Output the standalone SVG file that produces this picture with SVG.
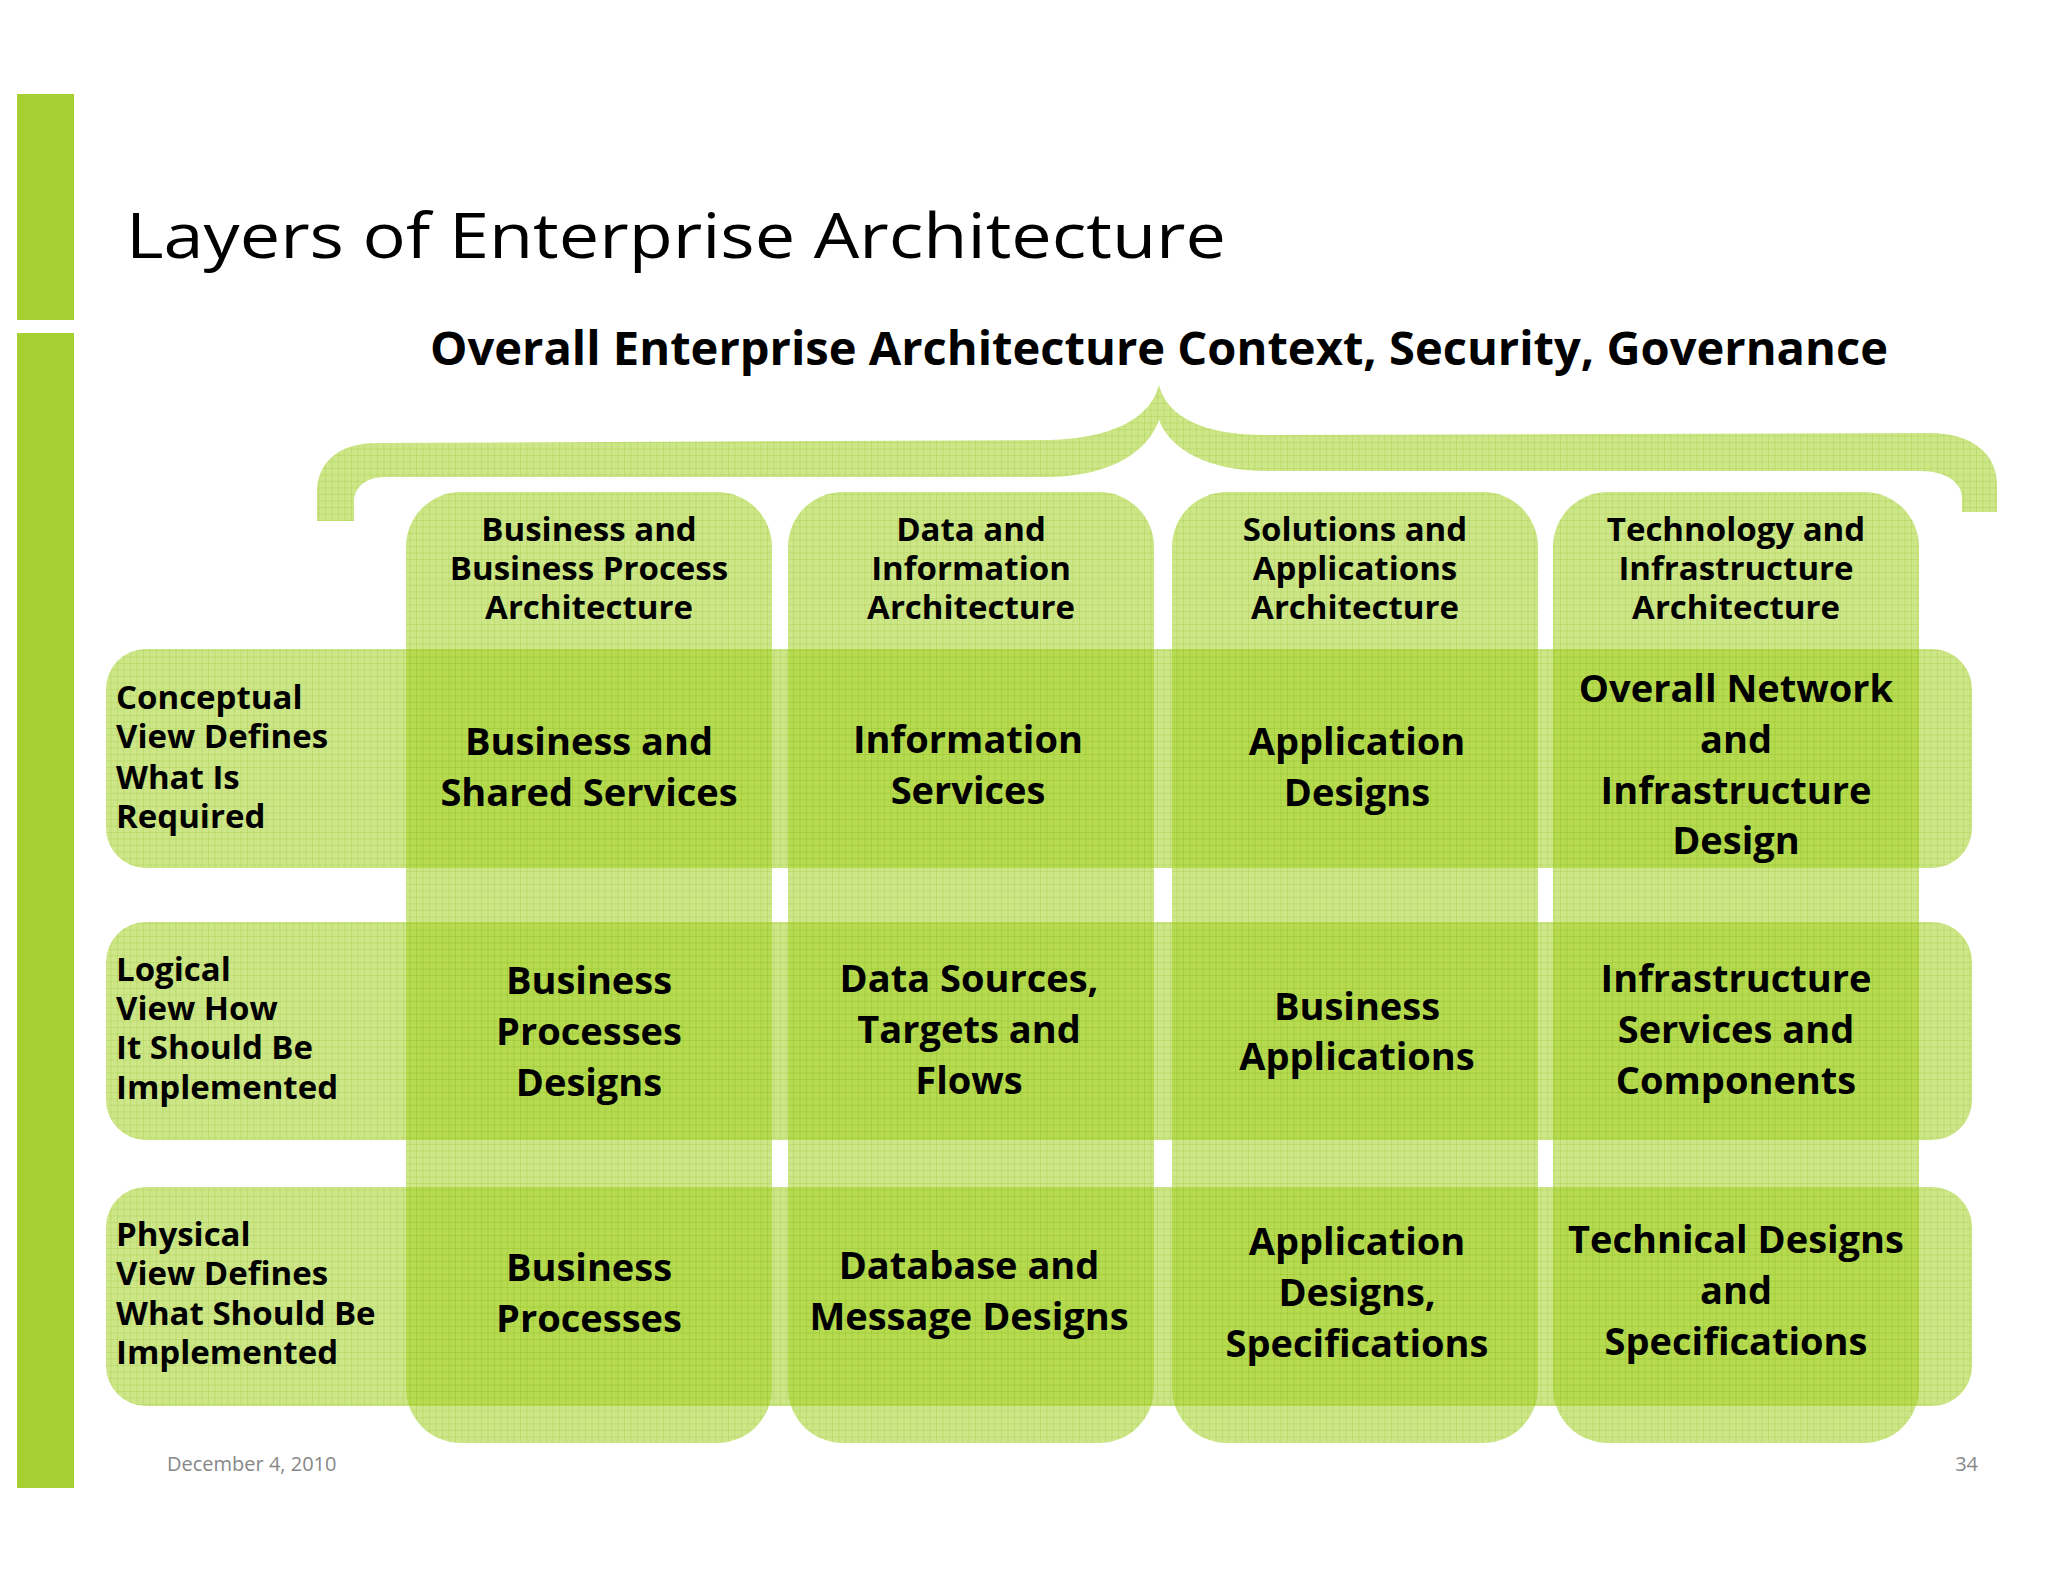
<svg xmlns="http://www.w3.org/2000/svg" width="2048" height="1582" viewBox="0 0 2048 1582">
<defs>
<pattern id="g" width="6.5" height="6.5" patternUnits="userSpaceOnUse">
<rect width="6.5" height="6.5" fill="#a4d124" fill-opacity="0.55"/>
<path d="M0 0.3H6.5M0.3 0V6.5" stroke="#7fb010" stroke-opacity="0.3" stroke-width="0.7"/>
</pattern>
<style>
.sh{fill:url(#g)}
text{font-family:"Open Sans","Liberation Sans",sans-serif;fill:#000}
.hd{font-size:33px;font-weight:bold;text-anchor:middle}
.cl{font-size:38px;font-weight:bold;text-anchor:middle}
.rl{font-size:33px;font-weight:bold}
</style>
</defs>
<rect width="2048" height="1582" fill="#fff"/>
<rect x="17" y="94" width="57" height="226" fill="#a6cf32"/>
<rect x="17" y="333" width="57" height="1155" fill="#a6cf32"/>
<text x="126" y="258" font-size="62" textLength="1100" lengthAdjust="spacingAndGlyphs">Layers of Enterprise Architecture</text>
<text x="430" y="365" font-size="47" font-weight="bold" textLength="1458" lengthAdjust="spacingAndGlyphs">Overall Enterprise Architecture Context, Security, Governance</text>
<g id="brace"><path class="sh" d="M317 521V492C317 462 340 443 375 443L1050 440C1110 438 1150 420 1159 385C1168 420 1210 436 1270 435L1930 433C1970 433 1997 452 1997 485V512H1962V498C1962 482 1945 471 1920 471L1270 471C1210 472 1170 450 1159 420C1148 452 1110 476 1050 477L385 477C365 477 354 488 354 502V521Z"/></g>
<g id="columns">
<rect class="sh" x="406" y="492" width="366" height="951" rx="55"/>
<rect class="sh" x="788" y="492" width="366" height="951" rx="55"/>
<rect class="sh" x="1172" y="492" width="366" height="951" rx="55"/>
<rect class="sh" x="1553" y="492" width="366" height="951" rx="55"/>
</g>
<g id="rows">
<rect class="sh" x="106" y="649" width="1866" height="219" rx="40"/>
<rect class="sh" x="106" y="922" width="1866" height="218" rx="40"/>
<rect class="sh" x="106" y="1187" width="1866" height="219" rx="40"/>
</g>
<g id="headers">
<text class="hd"><tspan x="589" y="541">Business and</tspan><tspan x="589" y="580">Business Process</tspan><tspan x="589" y="619">Architecture</tspan></text>
<text class="hd"><tspan x="971" y="541">Data and</tspan><tspan x="971" y="580">Information</tspan><tspan x="971" y="619">Architecture</tspan></text>
<text class="hd"><tspan x="1355" y="541">Solutions and</tspan><tspan x="1355" y="580">Applications</tspan><tspan x="1355" y="619">Architecture</tspan></text>
<text class="hd"><tspan x="1736" y="541">Technology and</tspan><tspan x="1736" y="580">Infrastructure</tspan><tspan x="1736" y="619">Architecture</tspan></text>
</g>
<g id="rowlabels">
<text class="rl"><tspan x="116" y="709">Conceptual</tspan><tspan x="116" y="748">View Defines</tspan><tspan x="116" y="789">What Is</tspan><tspan x="116" y="828">Required</tspan></text>
<text class="rl"><tspan x="116" y="981">Logical</tspan><tspan x="116" y="1020">View How</tspan><tspan x="116" y="1059">It Should Be</tspan><tspan x="116" y="1099">Implemented</tspan></text>
<text class="rl"><tspan x="116" y="1246">Physical</tspan><tspan x="116" y="1285">View Defines</tspan><tspan x="116" y="1325">What Should Be</tspan><tspan x="116" y="1364">Implemented</tspan></text>
</g>
<g id="cells">
<text class="cl"><tspan x="589" y="755">Business and</tspan><tspan x="589" y="806">Shared Services</tspan></text>
<text class="cl"><tspan x="968" y="753">Information</tspan><tspan x="968" y="804">Services</tspan></text>
<text class="cl"><tspan x="1357" y="755">Application</tspan><tspan x="1357" y="806">Designs</tspan></text>
<text class="cl"><tspan x="1736" y="702">Overall Network</tspan><tspan x="1736" y="753">and</tspan><tspan x="1736" y="804">Infrastructure</tspan><tspan x="1736" y="854">Design</tspan></text>
<text class="cl"><tspan x="589" y="994">Business</tspan><tspan x="589" y="1045">Processes</tspan><tspan x="589" y="1096">Designs</tspan></text>
<text class="cl"><tspan x="969" y="992">Data Sources,</tspan><tspan x="969" y="1043">Targets and</tspan><tspan x="969" y="1094">Flows</tspan></text>
<text class="cl"><tspan x="1357" y="1020">Business</tspan><tspan x="1357" y="1070">Applications</tspan></text>
<text class="cl"><tspan x="1736" y="992">Infrastructure</tspan><tspan x="1736" y="1043">Services and</tspan><tspan x="1736" y="1094">Components</tspan></text>
<text class="cl"><tspan x="589" y="1281">Business</tspan><tspan x="589" y="1332">Processes</tspan></text>
<text class="cl"><tspan x="969" y="1279">Database and</tspan><tspan x="969" y="1330">Message Designs</tspan></text>
<text class="cl"><tspan x="1357" y="1255">Application</tspan><tspan x="1357" y="1306">Designs,</tspan><tspan x="1357" y="1357">Specifications</tspan></text>
<text class="cl"><tspan x="1736" y="1253">Technical Designs</tspan><tspan x="1736" y="1304">and</tspan><tspan x="1736" y="1355">Specifications</tspan></text>
</g>
<text x="167" y="1471" font-size="20" style="fill:#888">December 4, 2010</text>
<text x="1978" y="1471" font-size="20" text-anchor="end" style="fill:#888">34</text>
</svg>
